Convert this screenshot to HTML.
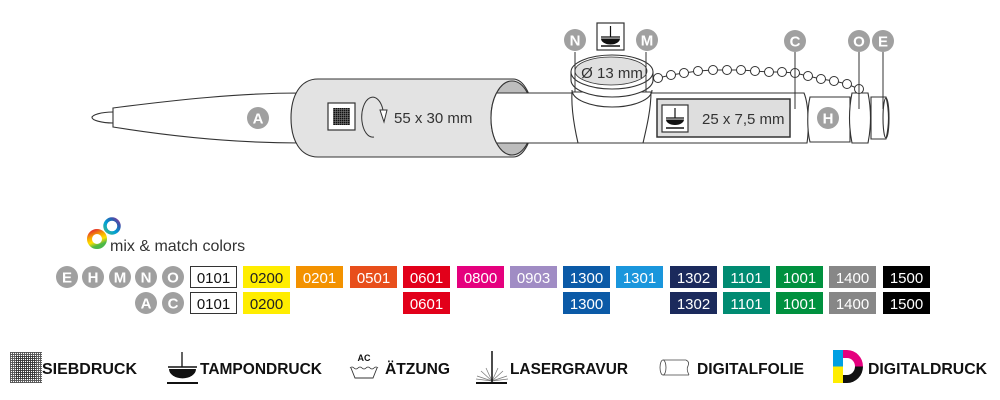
<!DOCTYPE html>
<html><head><meta charset="utf-8"><style>
html,body{margin:0;padding:0;background:#fff;}
svg{display:block;}
text{font-family:"Liberation Sans",Arial,sans-serif;}
</style></head><body>
<svg width="1000" height="400" viewBox="0 0 1000 400" xmlns="http://www.w3.org/2000/svg">
<defs>
  <pattern id="grid" width="2" height="2" patternUnits="userSpaceOnUse">
    <rect width="2" height="2" fill="#fff"/>
    <rect width="2" height="0.9" fill="#333"/>
    <rect width="0.9" height="2" fill="#333"/>
  </pattern>
  <pattern id="grid2" width="2" height="2" patternUnits="userSpaceOnUse">
    <rect width="2" height="2" fill="#111"/>
    <rect x="1.2" width="0.5" height="2" fill="#888"/>
    <rect y="1.2" width="2" height="0.5" fill="#888"/>
  </pattern>
  <linearGradient id="rb1" x1="0" y1="0" x2="0.4" y2="1">
    <stop offset="0" stop-color="#e5332a"/><stop offset="0.4" stop-color="#f7a800"/>
    <stop offset="0.7" stop-color="#ffe000"/><stop offset="1" stop-color="#4cb848"/>
  </linearGradient>
  <linearGradient id="rb2" x1="0" y1="1" x2="1" y2="0">
    <stop offset="0" stop-color="#3fb58a"/><stop offset="0.4" stop-color="#00a1d6"/>
    <stop offset="0.75" stop-color="#2a5db0"/><stop offset="1" stop-color="#8a3a9a"/>
  </linearGradient>
  <clipPath id="dclip"><path d="M833 350 H847 A16 16.5 0 0 1 847 383 H833 Z"/></clipPath>
</defs>

<!-- ===== PEN ===== -->
<g stroke="#333" stroke-width="1.1" fill="#fff">
  <path d="M113 112 C101 112 92 115 92 117.5 C92 120 101 123 113 123"/>
  <path d="M113 108 C175 100 240 93 300 93 L300 143 C240 143 175 137 113 127 Z"/>
  <path d="M318 79 H513 A20 39 0 0 1 513 157 H318 C300 157 291 140 291 118 C291 96 300 79 318 79 Z" fill="#e3e3e3"/>
  <ellipse cx="512" cy="118" rx="21" ry="37" fill="#bdbdbd"/>
  <path d="M496.5 93 A21 37 0 0 0 496.5 143 L807 143 C809 130 809 105 804 93 Z"/>
  <path d="M810 97 H850 V142 H810 C807 130 807 110 810 97 Z"/>
  <path d="M572 92 C571 110 575 130 578 143 L643 143 C646 130 651 110 651 92 Z"/>
  <path d="M572 90 A40 17 0 0 0 652 90" fill="none"/>
  <path d="M571 72 V80 A41 17 0 0 0 653 80 V72 Z"/>
  <ellipse cx="612" cy="72" rx="41" ry="17"/>
  <ellipse cx="611" cy="71" rx="36" ry="14" fill="#e0e0e0" stroke-width="0.8"/>
  <path d="M852 93 H868 Q873 118 868 143 H852 Q847 118 852 93 Z"/>
  <path d="M871 97 H886 Q891 118 886 139 H871 Z"/>
  <ellipse cx="886" cy="118" rx="3" ry="20" fill="none"/>
</g>

<rect x="328" y="103" width="27" height="27" fill="#fff" stroke="#333" stroke-width="1.2"/>
<rect x="333" y="108" width="17" height="17" fill="url(#grid2)"/>
<path d="M374 137 A11 20 0 1 1 383 110" fill="none" stroke="#333" stroke-width="1"/>
<path d="M380 110 L387 110 L384 122 Z" fill="#fff" stroke="#333" stroke-width="1"/>
<text x="394" y="123" font-size="15" fill="#333">55 x 30 mm</text>

<text x="612" y="78" font-size="15" fill="#333" text-anchor="middle">Ø 13 mm</text>

<g fill="#fff" stroke="#333" stroke-width="1">
  <polyline fill="none" points="658,78 671,75 684,73 698,71 713,70 727,70 741,70 755,71 769,72 782,72 795,73 808,76 821,79 834,81 847,84 859,89"/>
  <circle cx="658" cy="78" r="4.5"/><circle cx="671" cy="75" r="4.5"/><circle cx="684" cy="73" r="4.5"/>
  <circle cx="698" cy="71" r="4.5"/><circle cx="713" cy="70" r="4.5"/><circle cx="727" cy="70" r="4.5"/>
  <circle cx="741" cy="70" r="4.5"/><circle cx="755" cy="71" r="4.5"/><circle cx="769" cy="72" r="4.5"/>
  <circle cx="782" cy="72" r="4.5"/><circle cx="795" cy="73" r="4.5"/><circle cx="808" cy="76" r="4.5"/>
  <circle cx="821" cy="79" r="4.5"/><circle cx="834" cy="81" r="4.5"/><circle cx="847" cy="84" r="4.5"/>
  <circle cx="859" cy="89" r="4.5"/>
</g>

<rect x="657" y="99" width="133" height="38" fill="#dedede" stroke="#333" stroke-width="1.5"/>
<rect x="662" y="105" width="26" height="27" fill="#fff" stroke="#333" stroke-width="1.2"/>
<g stroke="#111" fill="#111">
  <line x1="675" y1="108" x2="675" y2="118" stroke-width="1.2"/>
  <line x1="666" y1="118" x2="684" y2="118" stroke-width="1.2"/>
  <path d="M666 119.5 A9 5.5 0 0 0 684 119.5 Z" stroke="none"/>
  <line x1="666" y1="128" x2="684" y2="128" stroke-width="1.5"/>
</g>
<text x="702" y="124" font-size="15" fill="#333">25 x 7,5 mm</text>

<rect x="597" y="23" width="27" height="27" fill="#fff" stroke="#333" stroke-width="1.2"/>
<g stroke="#111" fill="#111">
  <line x1="610.5" y1="26" x2="610.5" y2="37" stroke-width="1.2"/>
  <line x1="601" y1="37" x2="620" y2="37" stroke-width="1.2"/>
  <path d="M601 38.5 A9.5 6 0 0 0 620 38.5 Z" stroke="none"/>
  <line x1="601" y1="46" x2="620" y2="46" stroke-width="1.5"/>
</g>

<g stroke="#333" stroke-width="1">
  <line x1="575" y1="52" x2="575" y2="92"/>
  <line x1="646" y1="52" x2="646" y2="92"/>
  <line x1="795" y1="52" x2="795" y2="109"/>
  <line x1="859" y1="52" x2="859" y2="109"/>
  <line x1="883" y1="52" x2="883" y2="109"/>
</g>

<g font-size="15" font-weight="bold" fill="#fff" text-anchor="middle">
  <circle cx="258" cy="118" r="11" fill="#a0a0a0"/><text x="258" y="123.5">A</text>
  <circle cx="575" cy="40" r="11" fill="#a0a0a0"/><text x="575" y="45.5">N</text>
  <circle cx="647" cy="40" r="11" fill="#a0a0a0"/><text x="647" y="45.5">M</text>
  <circle cx="795" cy="41" r="11" fill="#a0a0a0"/><text x="795" y="46.5">C</text>
  <circle cx="859" cy="41" r="11" fill="#a0a0a0"/><text x="859" y="46.5">O</text>
  <circle cx="883" cy="41" r="11" fill="#a0a0a0"/><text x="883" y="46.5">E</text>
  <circle cx="828" cy="118" r="11" fill="#a0a0a0"/><text x="828" y="123.5">H</text>
</g>

<!-- ===== mix & match ===== -->
<circle cx="112" cy="226" r="7" fill="none" stroke="url(#rb2)" stroke-width="3.5"/>
<circle cx="97" cy="239" r="7.5" fill="none" stroke="url(#rb1)" stroke-width="5"/>
<text x="110" y="251" font-size="16" fill="#333">mix &amp; match colors</text>

<g font-size="15" font-weight="bold" fill="#fff" text-anchor="middle">
  <circle cx="67" cy="277" r="11" fill="#a0a0a0"/><text x="67" y="282.5">E</text>
  <circle cx="93" cy="277" r="11" fill="#a0a0a0"/><text x="93" y="282.5">H</text>
  <circle cx="120" cy="277" r="11" fill="#a0a0a0"/><text x="120" y="282.5">M</text>
  <circle cx="146" cy="277" r="11" fill="#a0a0a0"/><text x="146" y="282.5">N</text>
  <circle cx="173" cy="277" r="11" fill="#a0a0a0"/><text x="173" y="282.5">O</text>
  <circle cx="146" cy="303" r="11" fill="#a0a0a0"/><text x="146" y="308.5">A</text>
  <circle cx="173" cy="303" r="11" fill="#a0a0a0"/><text x="173" y="308.5">C</text>
</g>

<g font-size="15" text-anchor="middle">
  <rect x="190.5" y="266.5" width="46" height="21" fill="#fff" stroke="#333"/><text x="213.5" y="283" fill="#111">0101</text>
  <rect x="243" y="266" width="47" height="22" fill="#ffed00"/><text x="266.5" y="283" fill="#222">0200</text>
  <rect x="296" y="266" width="47" height="22" fill="#f39200"/><text x="319.5" y="283" fill="#fff">0201</text>
  <rect x="350" y="266" width="47" height="22" fill="#e84e1b"/><text x="373.5" y="283" fill="#fff">0501</text>
  <rect x="403" y="266" width="47" height="22" fill="#e2001a"/><text x="426.5" y="283" fill="#fff">0601</text>
  <rect x="457" y="266" width="47" height="22" fill="#e5007e"/><text x="480.5" y="283" fill="#fff">0800</text>
  <rect x="510" y="266" width="47" height="22" fill="#a08cc4"/><text x="533.5" y="283" fill="#fff">0903</text>
  <rect x="563" y="266" width="47" height="22" fill="#0b5aa7"/><text x="586.5" y="283" fill="#fff">1300</text>
  <rect x="616" y="266" width="47" height="22" fill="#1a96dc"/><text x="639.5" y="283" fill="#fff">1301</text>
  <rect x="670" y="266" width="47" height="22" fill="#1b2a5c"/><text x="693.5" y="283" fill="#fff">1302</text>
  <rect x="723" y="266" width="47" height="22" fill="#008b72"/><text x="746.5" y="283" fill="#fff">1101</text>
  <rect x="776" y="266" width="47" height="22" fill="#00913f"/><text x="799.5" y="283" fill="#fff">1001</text>
  <rect x="829" y="266" width="47" height="22" fill="#878787"/><text x="852.5" y="283" fill="#fff">1400</text>
  <rect x="883" y="266" width="47" height="22" fill="#000"/><text x="906.5" y="283" fill="#fff">1500</text>
</g>
<g font-size="15" text-anchor="middle">
  <rect x="190.5" y="292.5" width="46" height="21" fill="#fff" stroke="#333"/><text x="213.5" y="309" fill="#111">0101</text>
  <rect x="243" y="292" width="47" height="22" fill="#ffed00"/><text x="266.5" y="309" fill="#222">0200</text>
  <rect x="403" y="292" width="47" height="22" fill="#e2001a"/><text x="426.5" y="309" fill="#fff">0601</text>
  <rect x="563" y="292" width="47" height="22" fill="#0b5aa7"/><text x="586.5" y="309" fill="#fff">1300</text>
  <rect x="670" y="292" width="47" height="22" fill="#1b2a5c"/><text x="693.5" y="309" fill="#fff">1302</text>
  <rect x="723" y="292" width="47" height="22" fill="#008b72"/><text x="746.5" y="309" fill="#fff">1101</text>
  <rect x="776" y="292" width="47" height="22" fill="#00913f"/><text x="799.5" y="309" fill="#fff">1001</text>
  <rect x="829" y="292" width="47" height="22" fill="#878787"/><text x="852.5" y="309" fill="#fff">1400</text>
  <rect x="883" y="292" width="47" height="22" fill="#000"/><text x="906.5" y="309" fill="#fff">1500</text>
</g>

<!-- ===== legend ===== -->
<rect x="10" y="352" width="32" height="31" fill="url(#grid)" opacity="0.85"/>
<rect x="16" y="356" width="20" height="23" fill="url(#grid)"/>
<g stroke="#111" fill="#111">
  <line x1="182" y1="352" x2="182" y2="367" stroke-width="1.3"/>
  <line x1="168" y1="367" x2="197" y2="367" stroke-width="1.5"/>
  <path d="M169 369 A13 9 0 0 0 196 369 Z" stroke="none"/>
  <line x1="167" y1="383" x2="198" y2="383" stroke-width="2"/>
</g>
<text x="364" y="361" font-size="9" font-weight="bold" fill="#111" text-anchor="middle">AC</text>
<path d="M350 368 q2 -2 4 0 t4 0 t4 0 t4 0 t4 0 t4 0 t4 0" fill="none" stroke="#333" stroke-width="0.8"/>
<path d="M351 368 L355 378 H373 L377 368" fill="none" stroke="#333" stroke-width="0.9"/>
<g stroke="#777" stroke-width="0.7">
  <line x1="492" y1="381" x2="477" y2="376"/><line x1="492" y1="381" x2="481" y2="371"/>
  <line x1="492" y1="381" x2="486" y2="368"/><line x1="492" y1="381" x2="498" y2="368"/>
  <line x1="492" y1="381" x2="503" y2="371"/><line x1="492" y1="381" x2="507" y2="376"/>
  <line x1="492" y1="381" x2="476" y2="379"/><line x1="492" y1="381" x2="508" y2="379"/>
</g>
<line x1="492" y1="351" x2="492" y2="382" stroke="#111" stroke-width="1.5"/>
<line x1="476" y1="383" x2="507" y2="383" stroke="#111" stroke-width="2"/>
<g fill="none" stroke="#444" stroke-width="0.8">
  <path d="M663 360 H686 M663 375 H689"/>
  <ellipse cx="663" cy="367.5" rx="3" ry="7.5" fill="#fff"/>
  <path d="M686 360 Q690 362 688 366 Q686 369 689 375"/>
</g>
<g clip-path="url(#dclip)">
  <rect x="833" y="350" width="10" height="16.5" fill="#00a0e3"/>
  <rect x="843" y="350" width="22" height="16.5" fill="#e5007e"/>
  <rect x="833" y="366.5" width="10" height="17" fill="#ffed00"/>
  <rect x="843" y="366.5" width="22" height="17" fill="#111"/>
</g>
<path d="M843 358 H847 A8 8.5 0 0 1 847 375 H843 Z" fill="#fff"/>

<g font-size="16" font-weight="bold" fill="#111">
  <text x="42" y="374" textLength="95" lengthAdjust="spacingAndGlyphs">SIEBDRUCK</text>
  <text x="200" y="374" textLength="122" lengthAdjust="spacingAndGlyphs">TAMPONDRUCK</text>
  <text x="385" y="374" textLength="65" lengthAdjust="spacingAndGlyphs">ÄTZUNG</text>
  <text x="510" y="374" textLength="118" lengthAdjust="spacingAndGlyphs">LASERGRAVUR</text>
  <text x="697" y="374" textLength="107" lengthAdjust="spacingAndGlyphs">DIGITALFOLIE</text>
  <text x="868" y="374" textLength="119" lengthAdjust="spacingAndGlyphs">DIGITALDRUCK</text>
</g>
</svg>
</body></html>
